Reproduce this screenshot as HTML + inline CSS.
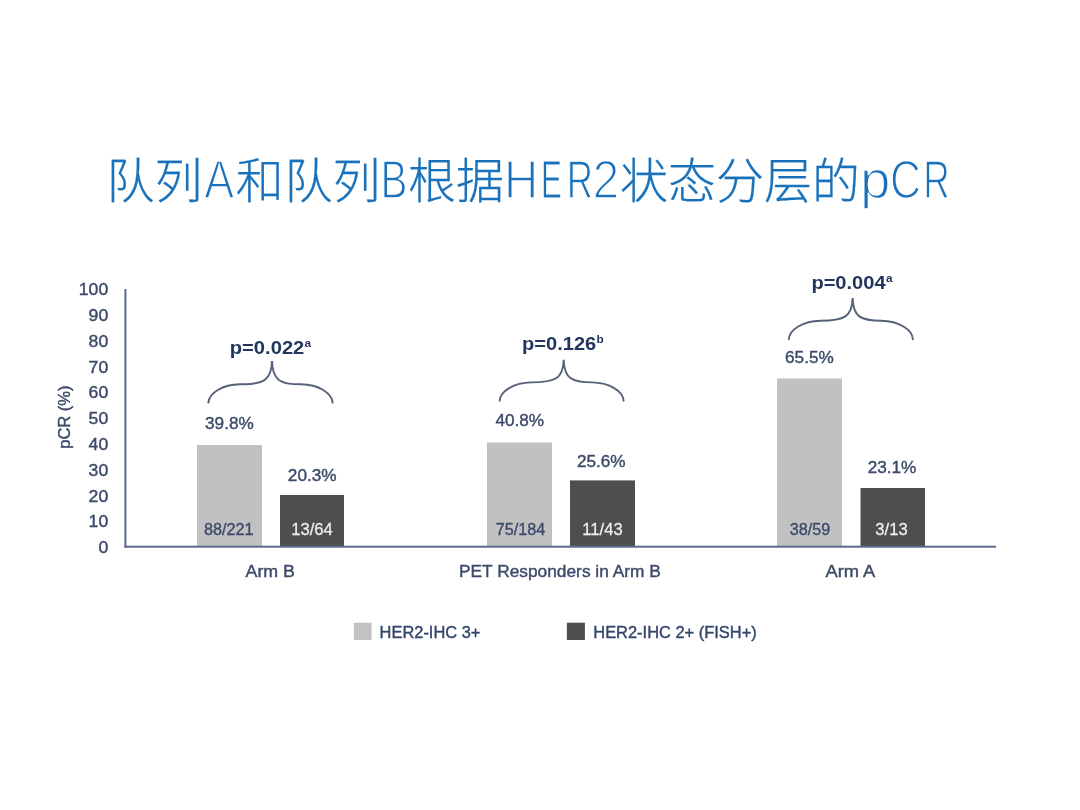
<!DOCTYPE html>
<html lang="zh-CN">
<head>
<meta charset="utf-8">
<title>队列A和队列B根据HER2状态分层的pCR</title>
<style>
  html, body { margin: 0; padding: 0; background: #ffffff; }
  body { width: 1080px; height: 810px; overflow: hidden; position: relative; }
  svg { position: absolute; left: 0; top: 0; display: block; }
  text { font-family: "Liberation Sans", "Noto Sans CJK SC", sans-serif; }
  .title { font-size: 48px; font-weight: 300; fill: #1871ba; stroke: #1871ba; stroke-width: 0.25px; }
  .lat { font-size: 53.4px; font-weight: 400; fill: #1871ba; stroke: #ffffff; stroke-width: 1.95px; paint-order: fill stroke; }
  .tick { font-size: 16px; fill: #3c4a6a; stroke: #3c4a6a; stroke-width: 0.4px; text-anchor: end; }
  .val { font-size: 17.2px; fill: #3c4a6a; stroke: #3c4a6a; stroke-width: 0.4px; text-anchor: middle; }
  .inbar { font-size: 16.2px; fill: #3c4a6a; stroke: #3c4a6a; stroke-width: 0.35px; text-anchor: middle; }
  .inbarw { font-size: 16.6px; fill: #eeeeee; stroke: #eeeeee; stroke-width: 0.28px; text-anchor: middle; }
  .cat { font-size: 17px; fill: #3c4a6a; stroke: #3c4a6a; stroke-width: 0.4px; }
  .leg { font-size: 17px; fill: #33456b; stroke: #33456b; stroke-width: 0.4px; }
  .pv { font-size: 18.7px; font-weight: 700; fill: #22365c; }
  .sup { font-size: 11.8px; font-weight: 700; fill: #22365c; }
  .ylab { font-size: 16.5px; fill: #3c4a6a; stroke: #3c4a6a; stroke-width: 0.4px; text-anchor: middle; }
  .brace { fill: none; stroke: #566279; stroke-width: 1.9; stroke-linecap: round; }
</style>
</head>
<body>
<svg width="1080" height="810" viewBox="0 0 1080 810">
  <rect x="0" y="0" width="1080" height="810" fill="#ffffff"/>

  <!-- Title -->
  <g id="title">
    <text><tspan class="title" x="106.5" y="198">队列</tspan><tspan class="lat" style="stroke-width:1.62px" x="204.23" y="197.7" textLength="29.93" lengthAdjust="spacingAndGlyphs">A</tspan><tspan class="title" x="235.8" y="198">和</tspan><tspan class="title" x="284.6" y="198">队列</tspan><tspan class="lat" style="stroke-width:1.46px" x="380.53" y="197.7" textLength="26.95" lengthAdjust="spacingAndGlyphs">B</tspan><tspan class="title" x="408" y="198">根据</tspan><tspan class="lat" style="stroke-width:1.70px" x="504.05" y="197.7" textLength="34.28" lengthAdjust="spacingAndGlyphs">H</tspan><tspan class="lat" style="stroke-width:1.10px" x="540.66" y="197.7" textLength="21.24" lengthAdjust="spacingAndGlyphs">E</tspan><tspan class="lat" style="stroke-width:1.30px" x="566.78" y="197.7" textLength="26.25" lengthAdjust="spacingAndGlyphs">R</tspan><tspan class="lat" style="stroke-width:1.73px" x="592.50" y="197.7" textLength="26.81" lengthAdjust="spacingAndGlyphs">2</tspan><tspan class="title" x="620" y="198">状态分层的</tspan><tspan class="lat" style="stroke-width:1.49px" x="859.91" y="197.7" textLength="30.45" lengthAdjust="spacingAndGlyphs">p</tspan><tspan class="lat" style="stroke-width:1.55px" x="889.90" y="197.7" textLength="30.95" lengthAdjust="spacingAndGlyphs">C</tspan><tspan class="lat" style="stroke-width:1.31px" x="923.34" y="197.7" textLength="26.52" lengthAdjust="spacingAndGlyphs">R</tspan></text>
  </g>

  <defs><filter id="soft" x="-2%" y="-2%" width="104%" height="104%"><feGaussianBlur stdDeviation="0.45"/></filter></defs>
  <g id="chart" filter="url(#soft)">
  <!-- Bars -->
  <g id="bars">
    <rect x="197" y="445" width="65" height="102" fill="#c1c1c1"/>
    <rect x="280" y="495" width="64" height="52" fill="#4f4e50"/>
    <rect x="487" y="442.5" width="65" height="104.5" fill="#c1c1c1"/>
    <rect x="570" y="480.4" width="65" height="66.6" fill="#4f4e50"/>
    <rect x="777" y="378.5" width="65" height="168.5" fill="#c1c1c1"/>
    <rect x="860.5" y="488" width="64.5" height="59" fill="#4f4e50"/>
  </g>

  <!-- Axes -->
  <g id="axes">
    <rect x="124.4" y="289" width="2" height="258.5" fill="#5a6a88"/>
    <rect x="124.4" y="545.7" width="871.6" height="2" fill="#5a6a88"/>
  </g>

  <!-- Y tick labels -->
  <g id="ticks">
    <text class="tick" x="108.2" y="295.2" textLength="29.4" lengthAdjust="spacingAndGlyphs">100</text>
    <text class="tick" x="108.2" y="321" textLength="19.6" lengthAdjust="spacingAndGlyphs">90</text>
    <text class="tick" x="108.2" y="346.8" textLength="19.6" lengthAdjust="spacingAndGlyphs">80</text>
    <text class="tick" x="108.2" y="372.6" textLength="19.6" lengthAdjust="spacingAndGlyphs">70</text>
    <text class="tick" x="108.2" y="398.4" textLength="19.6" lengthAdjust="spacingAndGlyphs">60</text>
    <text class="tick" x="108.2" y="424.2" textLength="19.6" lengthAdjust="spacingAndGlyphs">50</text>
    <text class="tick" x="108.2" y="450" textLength="19.6" lengthAdjust="spacingAndGlyphs">40</text>
    <text class="tick" x="108.2" y="475.8" textLength="19.6" lengthAdjust="spacingAndGlyphs">30</text>
    <text class="tick" x="108.2" y="501.6" textLength="19.6" lengthAdjust="spacingAndGlyphs">20</text>
    <text class="tick" x="108.2" y="527.4" textLength="19.6" lengthAdjust="spacingAndGlyphs">10</text>
    <text class="tick" x="108.2" y="553.2" textLength="9.8" lengthAdjust="spacingAndGlyphs">0</text>
  </g>
  <text class="ylab" transform="translate(70.3,417.1) rotate(-90)">pCR (%)</text>

  <!-- Value labels -->
  <g id="vals">
    <text class="val" x="229.4" y="429.1">39.8%</text>
    <text class="val" x="312.2" y="481.1">20.3%</text>
    <text class="val" x="519.8" y="425.8">40.8%</text>
    <text class="val" x="601.3" y="467.1">25.6%</text>
    <text class="val" x="809.4" y="363.3">65.5%</text>
    <text class="val" x="892" y="472.7">23.1%</text>
  </g>

  <!-- In-bar labels -->
  <g id="inbars">
    <text class="inbar" x="228.8" y="534.7">88/221</text>
    <text class="inbarw" x="312" y="534.7">13/64</text>
    <text class="inbar" x="520.5" y="534.7">75/184</text>
    <text class="inbarw" x="602.5" y="534.7">11/43</text>
    <text class="inbar" x="810" y="534.7">38/59</text>
    <text class="inbarw" x="891.5" y="534.7">3/13</text>
  </g>

  <!-- Category labels -->
  <g id="cats">
    <text class="cat" x="245.5" y="577.3" textLength="49.5" lengthAdjust="spacingAndGlyphs">Arm B</text>
    <text class="cat" x="459" y="577.3" textLength="201.8" lengthAdjust="spacingAndGlyphs">PET Responders in Arm B</text>
    <text class="cat" x="825.5" y="577.3" textLength="49.8" lengthAdjust="spacingAndGlyphs">Arm A</text>
  </g>

  <!-- Legend -->
  <g id="legend">
    <rect x="353.8" y="622.7" width="17.8" height="17.3" fill="#c2c2c2"/>
    <text class="leg" x="379.6" y="637.8" textLength="100.8" lengthAdjust="spacingAndGlyphs">HER2-IHC 3+</text>
    <rect x="566.9" y="622.7" width="18" height="17.3" fill="#4f4e50"/>
    <text class="leg" x="593.3" y="637.8" textLength="163.4" lengthAdjust="spacingAndGlyphs">HER2-IHC 2+ (FISH+)</text>
  </g>

  <!-- p-values -->
  <g id="pvals">
    <text class="pv" x="229.8" y="354.0"><tspan textLength="74.5" lengthAdjust="spacingAndGlyphs">p=0.022</tspan><tspan class="sup" x="304.4" dy="-6.8">a</tspan></text>
    <text class="pv" x="522.1" y="350.0"><tspan textLength="74.1" lengthAdjust="spacingAndGlyphs">p=0.126</tspan><tspan class="sup" x="596.4" dy="-6.8">b</tspan></text>
    <text class="pv" x="811.4" y="288.9"><tspan textLength="74.2" lengthAdjust="spacingAndGlyphs">p=0.004</tspan><tspan class="sup" x="886.0" dy="-6.8">a</tspan></text>
  </g>

  <!-- Braces -->
  <g id="braces">
    <path class="brace" d="M208.4 402.6 C209.0 393.0 222.4 384.6 240.0 384.3 C264.0 384.3 271.5 380.3 272.0 361.1 C272.5 380.3 280.0 384.3 301.0 384.3 C318.6 384.6 332.0 393.0 332.6 402.6"/>
    <path class="brace" d="M499.7 400.7 C500.3 391.1 513.7 382.7 531.3 382.4 C555.7 382.4 563.2 378.4 563.7 359.8 C564.2 378.4 571.7 382.4 592.0 382.4 C609.6 382.7 623.0 391.1 623.6 400.7"/>
    <path class="brace" d="M788.8 339.2 C789.4 329.6 802.8 321.0 820.4 320.7 C844.6 320.7 852.1 316.7 852.6 298.1 C853.1 316.7 860.6 320.7 881.3 320.7 C898.9 321.0 912.3 329.6 912.9 339.2"/>
  </g>
  </g>
</svg>
</body>
</html>
